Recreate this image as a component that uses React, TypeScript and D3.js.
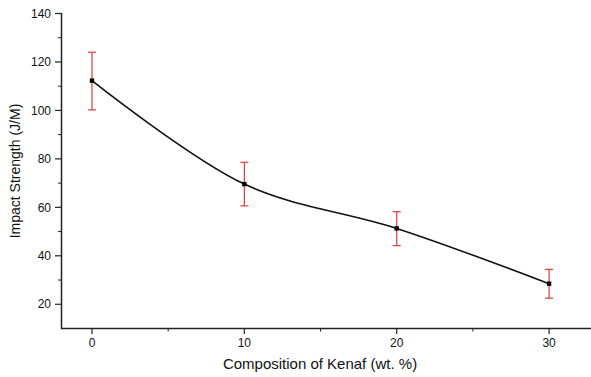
import React from "react";
import * as d3 from "d3";

const kenaf = [0, 10, 20, 30];
const impact = [112.3, 69.6, 51.3, 28.5];
const errUpper = [124, 78.6, 58.2, 34.4];
const errLower = [100.2, 60.6, 44.2, 22.5];
const xTicks = [0, 10, 20, 30];
const yTicks = [20, 40, 60, 80, 100, 120, 140];

const W = 591;
const H = 377;

export default function App() {
  const x = d3.scaleLinear().domain([-2, 32.75]).range([61.5, 591]);
  const y = d3.scaleLinear().domain([10, 140]).range([328.5, 13.5]);

  const pts: [number, number][] = kenaf.map((k, i) => [x(k), y(impact[i])]);
  const line = d3.line().curve(d3.curveCatmullRom.alpha(0.5))(pts) || "";

  const xMinor = d3.range(5, 31, 10);
  const yMinor = d3.range(10, 141, 20).filter((v) => v > 10);
  const font = "Arial, 'Liberation Sans', sans-serif";
  const axisColor = "#222";

  return (
    <div style={{ position: "absolute", left: 0, top: 0 }}>
      <svg width={W} height={H} style={{ display: "block", background: "#fff" }}>
        {/* axes */}
        <line x1={61.5} x2={61.5} y1={13} y2={329} stroke={axisColor} strokeWidth={1.5} />
        <line x1={61} x2={591} y1={328.5} y2={328.5} stroke={axisColor} strokeWidth={1.5} />

        {yTicks.map((t) => (
          <g key={"yt" + t}>
            <line x1={55} x2={61.5} y1={y(t)} y2={y(t)} stroke={axisColor} strokeWidth={1.2} />
            <text x={51} y={y(t)} dy="0.35em" textAnchor="end" fontFamily={font} fontSize={12} fill="#111">
              {t}
            </text>
          </g>
        ))}
        {yMinor.map((t) => (
          <line key={"ym" + t} x1={58} x2={61.5} y1={y(t)} y2={y(t)} stroke={axisColor} strokeWidth={1} />
        ))}
        {xTicks.map((t) => (
          <g key={"xt" + t}>
            <line x1={x(t)} x2={x(t)} y1={328.5} y2={334} stroke={axisColor} strokeWidth={1.2} />
            <text x={x(t)} y={343} dy="0.35em" textAnchor="middle" fontFamily={font} fontSize={12} fill="#111">
              {t}
            </text>
          </g>
        ))}
        {xMinor.map((t) => (
          <line key={"xm" + t} x1={x(t)} x2={x(t)} y1={328.5} y2={331.5} stroke={axisColor} strokeWidth={1} />
        ))}

        {/* axis titles */}
        <text x={320} y={369} textAnchor="middle" fontFamily={font} fontSize={15} fill="#111">
          Composition of Kenaf (wt. %)
        </text>
        <text
          transform={`translate(20,171) rotate(-90)`}
          textAnchor="middle"
          fontFamily={font}
          fontSize={14}
          fill="#111"
        >
          Impact Strength (J/M)
        </text>

        {/* fitted curve */}
        <path d={line} fill="none" stroke="#111" strokeWidth={1.6} />

        {/* error bars */}
        {kenaf.map((k, i) => (
          <g key={"eb" + k} stroke="#e03a3a" strokeWidth={1.2}>
            <line x1={x(k)} x2={x(k)} y1={y(errUpper[i])} y2={y(errLower[i])} />
            <line x1={x(k) - 4} x2={x(k) + 4} y1={y(errUpper[i])} y2={y(errUpper[i])} />
            <line x1={x(k) - 4} x2={x(k) + 4} y1={y(errLower[i])} y2={y(errLower[i])} />
          </g>
        ))}

        {/* markers */}
        {kenaf.map((k, i) => (
          <rect key={"pt" + k} x={x(k) - 2.2} y={y(impact[i]) - 2.2} width={4.4} height={4.4} fill="#000" />
        ))}
      </svg>
    </div>
  );
}
